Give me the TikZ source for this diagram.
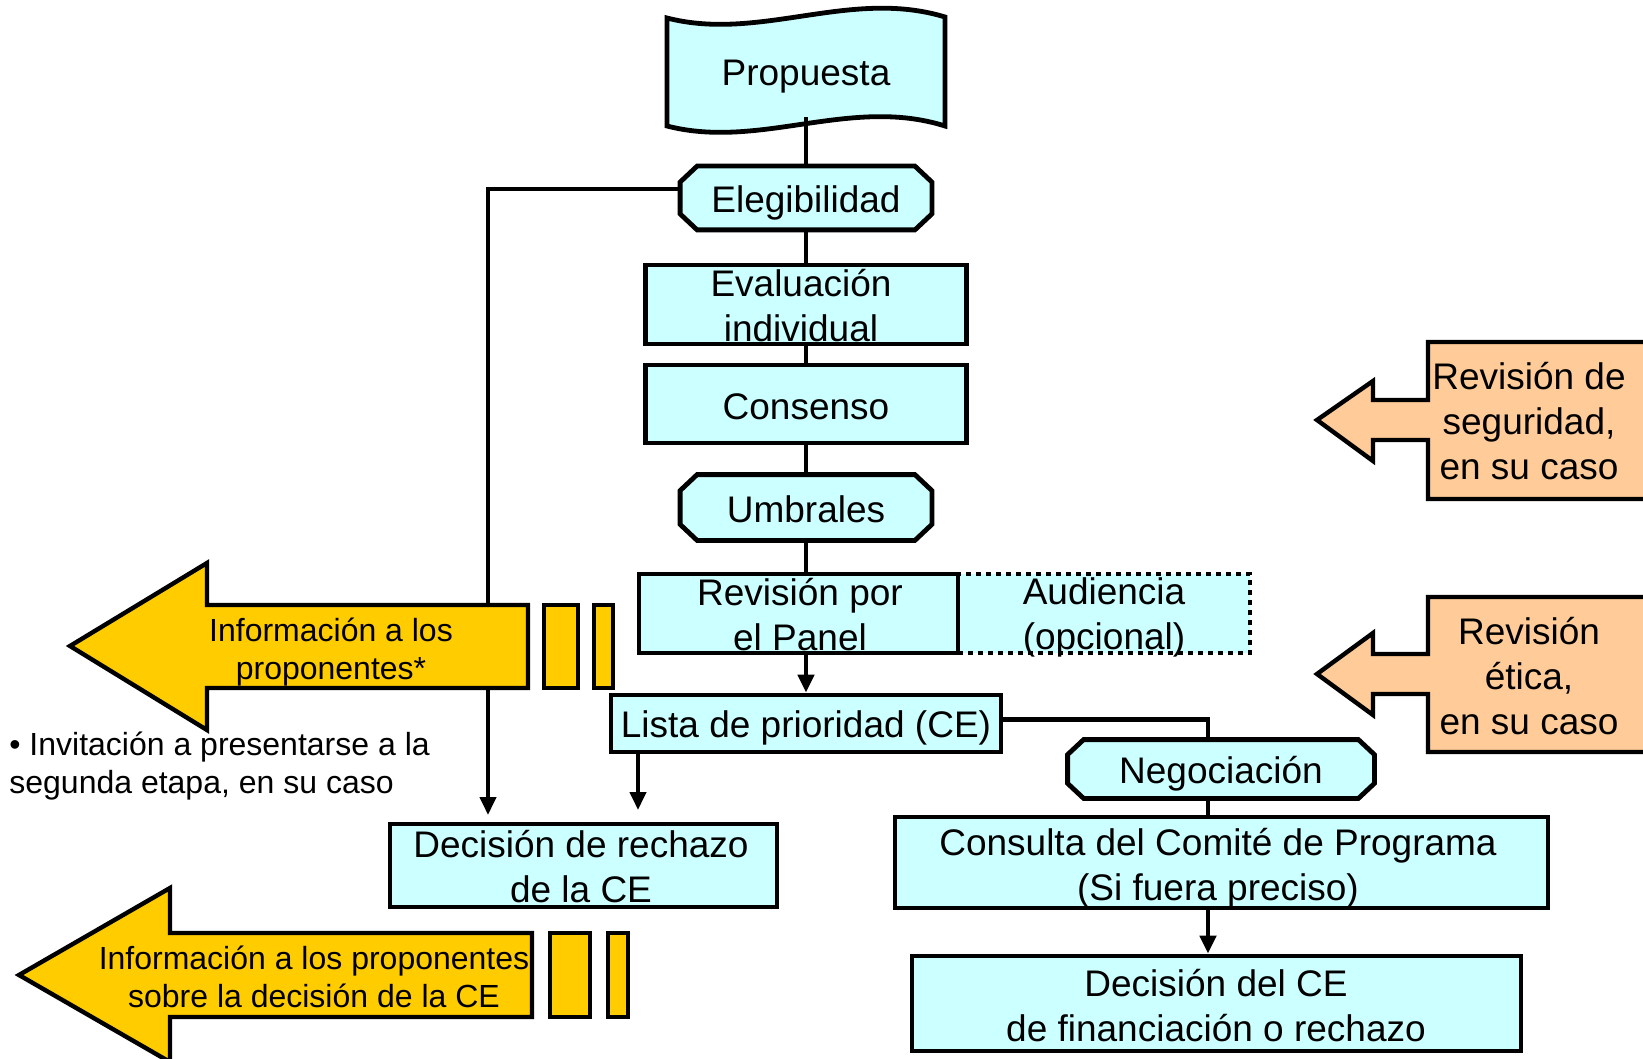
\documentclass[tikz,border=0pt]{standalone}
\usepackage{fontspec}
\setmainfont{Liberation Sans}
\usetikzlibrary{arrows.meta}
\definecolor{cyanL}{HTML}{CCFFFF}
\definecolor{gold}{HTML}{FFCC00}
\definecolor{peach}{HTML}{FFCC99}
\newcommand{\octoshape}[3]{%
  \draw[line width=2.4pt, fill=cyanL, line join=miter]
    ([xshift=#2]#1.north west) -- ([xshift=-#2]#1.north east) -- ([yshift=-#3]#1.north east)
    -- ([yshift=#3]#1.south east) -- ([xshift=-#2]#1.south east) -- ([xshift=#2]#1.south west)
    -- ([yshift=#3]#1.south west) -- ([yshift=-#3]#1.north west) -- cycle;}
\begin{document}
\begin{tikzpicture}[x=0.5pt,y=-0.5pt,
  box/.style={draw,line width=2.4pt,fill=cyanL,inner sep=0pt},
  frame/.style={inner sep=0pt},
  big/.style={font=\fontsize{18.5}{22.5}\selectfont, align=center, inner sep=0pt},
  small/.style={font=\fontsize{16}{19.3}\selectfont, align=center, inner sep=0pt},
  conn/.style={line width=2.4pt},
  thinconn/.style={line width=2pt},
  tip/.style={-{Triangle[length=9pt,width=8pt]}},
  yarrow/.style={draw,line width=2.2pt,fill=gold,line join=miter},
  oarrow/.style={draw,line width=2.2pt,fill=peach,line join=miter},
]
\useasboundingbox (0,0) rectangle (1643,1059);
\clip (0,0) rectangle (1643,1059);

% banner
\draw[line width=2.4pt, fill=cyanL] (667,18) .. controls (760,42) and (850,-12) .. (945,17) -- (945,126) .. controls (850,96) and (760,150) .. (667,126) -- cycle;
\node[big, minimum height=40pt] (prop) at (806,77) {Propuesta};

% boxes
\node[frame, minimum width=125.5pt, minimum height=31.5pt] (eleg) at (806,198) {};
\octoshape{eleg}{8.5pt}{8pt}
\node[big] (elegT) at (806,203) {Elegibilidad};

\node[box, minimum width=160.5pt, minimum height=39.5pt] (eval) at (806,304.5) {};
\node[big] (evalT) at (801,306) {Evaluación\\individual};

\node[box, minimum width=160.5pt, minimum height=39pt] (cons) at (806,404) {};
\node[big] (consT) at (806,406.5) {Consenso};

\node[frame, minimum width=125.5pt, minimum height=32.5pt] (umbr) at (806,507.5) {};
\octoshape{umbr}{8.5pt}{8pt}
\node[big] (umbrT) at (806,509.5) {Umbrales};

\node[box, dash pattern=on 2.5pt off 2.5pt, minimum width=146pt, minimum height=39.5pt] (aud) at (1104,613.5) {};
\node[box, minimum width=159.5pt, minimum height=39.5pt] (rev) at (798.5,613.5) {};
\node[big] (revT) at (800,615) {Revisión por\\el Panel};
\node[big] (audT) at (1104,617.5) {Audiencia\\(opcional)};

\node[box, minimum width=195pt, minimum height=28.5pt] (lista) at (806,723.5) {};
\node[big] (listaT) at (806,728) {Lista de prioridad (CE)};

\node[box, minimum width=193.5pt, minimum height=41.5pt] (rech) at (583.5,865.5) {};
\node[big] (rechT) at (581,867) {Decisión de rechazo\\de la CE};

\node[frame, minimum width=153pt, minimum height=29pt] (neg) at (1221,769) {};
\octoshape{neg}{8pt}{7.5pt}
\node[big] (negT) at (1221,773.5) {Negociación};

\node[box, minimum width=326.5pt, minimum height=45.5pt] (cp) at (1221.5,862.5) {};
\node[big] (cpT) at (1218,868) {Consulta del Comité de Programa\\(Si fuera preciso)};

\node[box, minimum width=304.5pt, minimum height=47.5pt] (dec) at (1216.5,1003.5) {};
\node[big] (decT) at (1216,1005.5) {Decisión del CE\\de financiación o rechazo};

\coordinate (c1) at (488,815);
\coordinate (c2) at (638,810);
\coordinate (nx) at (1208,0);

% connectors
\draw[conn] (prop.south) -- (eleg.north);
\draw[conn] (eleg.south) -- (eval.north);
\draw[conn] (eval.south) -- (cons.north);
\draw[conn] (cons.south) -- (umbr.north);
\draw[conn] (umbr.south) -- (umbr.south |- rev.north);
\draw[conn,tip] (lista.north |- rev.south) -- (lista.north);
\draw[conn] ([yshift=2pt]lista.east) -| (nx |- neg.north);
\draw[conn] (nx |- neg.south) -- (nx |- cp.north);
\draw[conn,tip] (nx |- cp.south) -- (nx |- dec.north);
\draw[thinconn,tip] ([yshift=4.5pt]eleg.west) -| (c1);
\draw[thinconn,tip] (lista.south -| c2) -- (c2);

% yellow arrows
\draw[yarrow] (528,605) -- (207,605) -- (207,563) -- (70,646) -- (207,730) -- (207,688) -- (528,688) -- cycle;
\draw[yarrow] (544,605) rectangle (578,688);
\draw[yarrow] (594,605) rectangle (613,688);
\node[small] (inf1) at (331,652) {Información a los\\proponentes*};

\draw[yarrow] (532,933) -- (170,933) -- (170,888) -- (19,975) -- (170,1062) -- (170,1017) -- (532,1017) -- cycle;
\draw[yarrow] (550,933) rectangle (590,1017);
\draw[yarrow] (608,933) rectangle (628,1017);
\node[small] (inf2) at (314,977) {Información a los proponentes\\sobre la decisión de la CE};

\node[small, align=left, anchor=west] (inv) at (9,766) {• Invitación a presentarse a la\\segunda etapa, en su caso};

% orange arrows
\draw[oarrow] (1660,342) -- (1428,342) -- (1428,400) -- (1373,400) -- (1373,381) -- (1317,420) -- (1373,461) -- (1373,440) -- (1428,440) -- (1428,499) -- (1660,499) -- cycle;
\node[big] (seg) at (1529,421.5) {Revisión de\\seguridad,\\en su caso};
\draw[oarrow] (1660,597) -- (1428,597) -- (1428,654) -- (1373,654) -- (1373,633) -- (1317,674) -- (1373,715) -- (1373,694) -- (1428,694) -- (1428,752) -- (1660,752) -- cycle;
\node[big] (eti) at (1529,676.5) {Revisión\\ética,\\en su caso};
\end{tikzpicture}
\end{document}
